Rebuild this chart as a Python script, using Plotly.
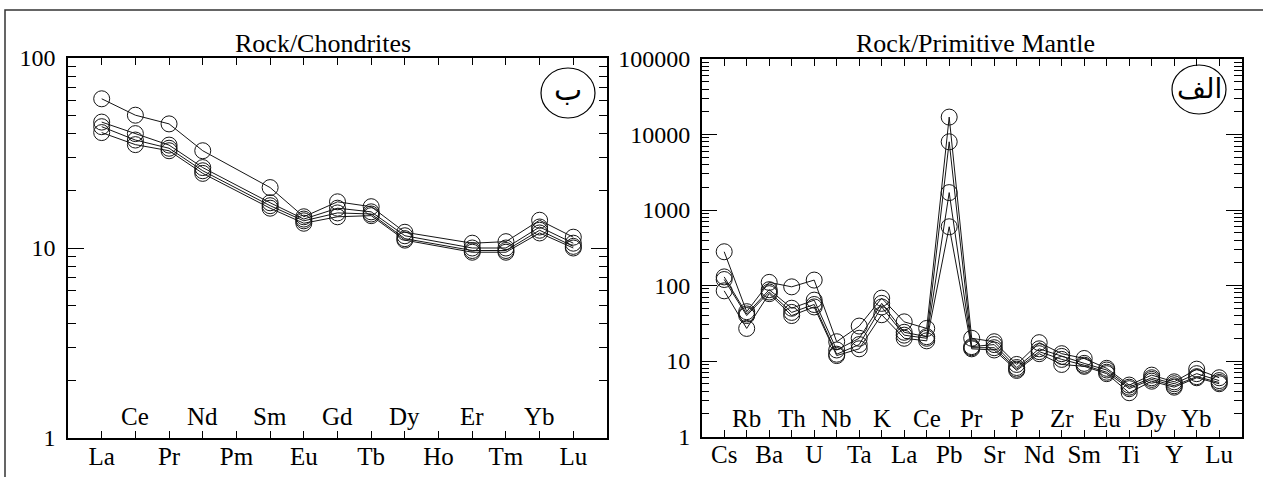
import plotly.graph_objects as go

W, H = 1263, 477

# ---------------- data ----------------
ree_elements = ["La", "Ce", "Pr", "Nd", "Pm", "Sm", "Eu", "Gd", "Tb", "Dy", "Ho", "Er", "Tm", "Yb", "Lu"]
ree_s1 = [61, 50, 45, 32.5, None, 20.8, 14.6, 17.5, 16.5, 12.1, None, 10.6, 10.8, 14.0, 11.4]
ree_s2 = [46, 40, 34.8, 26.5, None, 17.3, 14.2, 16.2, 15.5, 11.6, None, 10.0, 10.0, 12.9, 10.6]
ree_s3 = [43.5, 37, 33.5, 25.5, None, 16.7, 13.9, 15.3, 15.1, 11.2, None, 9.7, 9.7, 12.4, 10.2]
ree_s4 = [40.5, 35, 32.5, 24.7, None, 16.2, 13.5, 14.6, 14.8, 11.0, None, 9.5, 9.5, 12.0, 10.0]

pm_elements = ["Cs", "Rb", "Ba", "Th", "U", "Nb", "Ta", "K", "La", "Ce", "Pb", "Pr", "Sr", "P",
               "Nd", "Zr", "Sm", "Eu", "Ti", "Dy", "Y", "Yb", "Lu"]
pm_s1 = [280, 45, 110, 96, 118, 18, 29, 68, 33, 27, 17000, 20, 18, 9.0, 17.5, 12.5, 10.8, 8.0, 4.8, 6.5, 5.3, 7.8, 6.0]
pm_s2 = [130, 42, 88, 50, 64, 14, 20, 58, 24, 21, 8000, 15.5, 16.5, 8.2, 14.5, 11.5, 9.3, 7.6, 4.5, 6.0, 5.0, 6.8, 5.5]
pm_s3 = [120, 40, 82, 44, 56, 12.3, 16.5, 52, 22, 20, 1700, 15, 15, 7.8, 13.3, 10.5, 8.8, 7.1, 4.3, 5.7, 4.7, 6.2, 5.2]
pm_s4 = [85, 27, 78, 40, 52, 11.8, 14.5, 41, 20, 18.5, 600, 14.5, 14, 7.5, 12.5, 9.0, 8.5, 6.8, 3.8, 5.4, 4.5, 6.0, 5.0]

left_title = "Rock/Chondrites"
right_title = "Rock/Primitive Mantle"
left_tag = "ب"
right_tag = "الف"
left_yticks = [1, 10, 100]
right_yticks = [1, 10, 100, 1000, 10000, 100000]

# ---------------- figure ----------------
SERIF = "Liberation Serif, Times New Roman, serif"
INK = "#151515"

fig = go.Figure()

for s in [ree_s1, ree_s2, ree_s3, ree_s4]:
    fig.add_trace(go.Scatter(
        x=list(range(len(ree_elements))), y=s, mode="lines+markers", connectgaps=True,
        line=dict(color=INK, width=1),
        marker=dict(symbol="circle-open", size=16, color=INK, line=dict(width=1)),
        xaxis="x", yaxis="y", showlegend=False, cliponaxis=False))

for s in [pm_s1, pm_s2, pm_s3, pm_s4]:
    fig.add_trace(go.Scatter(
        x=list(range(len(pm_elements))), y=s, mode="lines+markers",
        line=dict(color=INK, width=1),
        marker=dict(symbol="circle-open", size=16, color=INK, line=dict(width=1)),
        xaxis="x2", yaxis="y2", showlegend=False, cliponaxis=False))


def px(x):
    return x / W


def py(y):
    return 1 - y / H


def minor_vals(decades):
    out = []
    for d in range(decades):
        for k in range(2, 10):
            out.append(k * 10 ** d)
    return out


axis_common = dict(showline=True, linecolor="black", linewidth=1.5, mirror="ticks",
                   ticks="inside", tickcolor="black", showgrid=False, zeroline=False,
                   automargin=False)
xfont = dict(family=SERIF, size=25, color="black")
yfont = dict(family=SERIF, size=24, color="black")

fig.update_layout(
    template="none",
    width=W, height=H, margin=dict(l=0, r=0, t=0, b=0, pad=0), autosize=False,
    paper_bgcolor="white", plot_bgcolor="white",
    xaxis=dict(domain=[px(68), px(607)], range=[-1, len(ree_elements)], anchor="y",
               tickvals=list(range(len(ree_elements))),
               ticktext=[e if i % 2 == 0 else "" for i, e in enumerate(ree_elements)],
               ticklen=7, ticklabelstandoff=-5, tickfont=xfont, **axis_common),
    yaxis=dict(domain=[py(438), py(58)], type="log", range=[0, 2], anchor="x",
               tickvals=left_yticks, ticktext=[str(v) for v in left_yticks],
               ticklen=16, ticklabelstandoff=6, tickfont=yfont,
               minor=dict(tickvals=minor_vals(2), ticks="inside", ticklen=8, tickcolor="black"),
               **axis_common),
    xaxis2=dict(domain=[px(701.7), px(1241.7)], range=[-1, len(pm_elements)], anchor="y2",
                tickvals=list(range(len(pm_elements))),
                ticktext=[e if i % 2 == 0 else "" for i, e in enumerate(pm_elements)],
                ticklen=7, ticklabelstandoff=-5, tickfont=xfont, **axis_common),
    yaxis2=dict(domain=[py(436.5), py(59)], type="log", range=[0, 5], anchor="x2",
                tickvals=right_yticks, ticktext=[str(v) for v in right_yticks],
                ticklen=16, ticklabelstandoff=5, tickfont=yfont,
                minor=dict(tickvals=minor_vals(5), ticks="inside", ticklen=8, tickcolor="black"),
                **axis_common),
)

annotations = []
# staggered inner labels (odd positions)
for i, e in enumerate(ree_elements):
    if i % 2 == 1:
        annotations.append(dict(x=i, y=py(416), xref="x", yref="paper", text=e, showarrow=False,
                                font=xfont, xanchor="center", yanchor="middle"))
for i, e in enumerate(pm_elements):
    if i % 2 == 1:
        annotations.append(dict(x=i, y=py(418), xref="x2", yref="paper", text=e, showarrow=False,
                                font=xfont, xanchor="center", yanchor="middle"))
# titles
annotations.append(dict(x=px(323), y=py(43), xref="paper", yref="paper", text=left_title,
                        showarrow=False, xanchor="center", yanchor="middle",
                        font=dict(family=SERIF, size=26, color="black")))
annotations.append(dict(x=px(975), y=py(43), xref="paper", yref="paper", text=right_title,
                        showarrow=False, xanchor="center", yanchor="middle",
                        font=dict(family=SERIF, size=26, color="black")))
# circled tags
annotations.append(dict(x=px(568), y=py(90), xref="paper", yref="paper", text=left_tag,
                        showarrow=False, xanchor="center", yanchor="middle",
                        font=dict(family="DejaVu Sans", size=30, color="black")))
annotations.append(dict(x=px(1199), y=py(88), xref="paper", yref="paper", text=right_tag,
                        showarrow=False, xanchor="center", yanchor="middle",
                        font=dict(family="DejaVu Sans", size=28, color="black")))
fig.update_layout(annotations=annotations)

shapes = [
    dict(type="circle", xref="paper", yref="paper", x0=px(541), x1=px(595), y0=py(118), y1=py(68),
         line=dict(color="black", width=1.2)),
    dict(type="circle", xref="paper", yref="paper", x0=px(1172), x1=px(1226), y0=py(114), y1=py(65),
         line=dict(color="black", width=1.2)),
    dict(type="rect", xref="paper", yref="paper", x0=px(5), x1=1.01, y0=-0.02, y1=py(10),
         line=dict(color="#333333", width=1.5)),
]
fig.update_layout(shapes=shapes)

fig.write_html("out.html")
